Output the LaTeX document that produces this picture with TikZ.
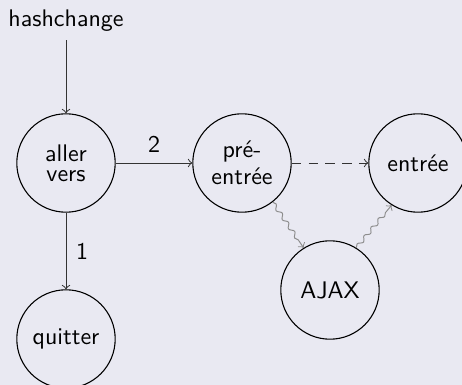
\documentclass[tikz,border=0pt]{standalone}
\usetikzlibrary{decorations.pathmorphing}
\renewcommand{\familydefault}{\sfdefault}
\definecolor{bgcol}{RGB}{233,233,242}
\tikzset{
  state/.style={circle, draw=black, line width=0.45pt, minimum size=41pt, inner sep=0pt, align=center, font=\sffamily},
  flow/.style={->, draw=black!80, line width=0.4pt},
  wave/.style={->, draw=black!45, line width=0.4pt, decorate,
    decoration={snake, amplitude=0.8pt, segment length=4.6pt, post length=2pt}}
}
\begin{document}
\begin{tikzpicture}[x=0.4167pt, y=-0.4167pt]
  \fill[bgcol] (0,0) rectangle (462,385);
  \useasboundingbox (0,0) rectangle (462,385);

  \node[font=\sffamily, inner sep=3.33pt] (hc) at (66,21) {hashchange};
  \node[state] (goto) at (66,163) {aller\\[-3.7pt]vers};
  \node[state] (pre) at (242,163) {pré-\\[-0.7pt]entrée};
  \node[state] (entry) at (418,163) {entrée};
  \node[state] (ajax) at (330,290) {AJAX};
  \node[state] (quit) at (66,339) {quitter};

  \draw[flow] (hc.south) -- (goto.north);
  \draw[flow] (goto) -- node[above, font=\sffamily, inner sep=4pt] (lbl2) {2} (pre);
  \draw[flow] (goto) -- node[right, font=\sffamily, inner sep=4pt] (lbl1) {1} (quit);
  \draw[flow, dashed, dash pattern=on 4pt off 3pt] (pre) -- (entry);
  \draw[wave] (pre.-52) -- (ajax.122);
  \draw[wave] (ajax.58) -- (entry.-122);
\end{tikzpicture}
\end{document}
